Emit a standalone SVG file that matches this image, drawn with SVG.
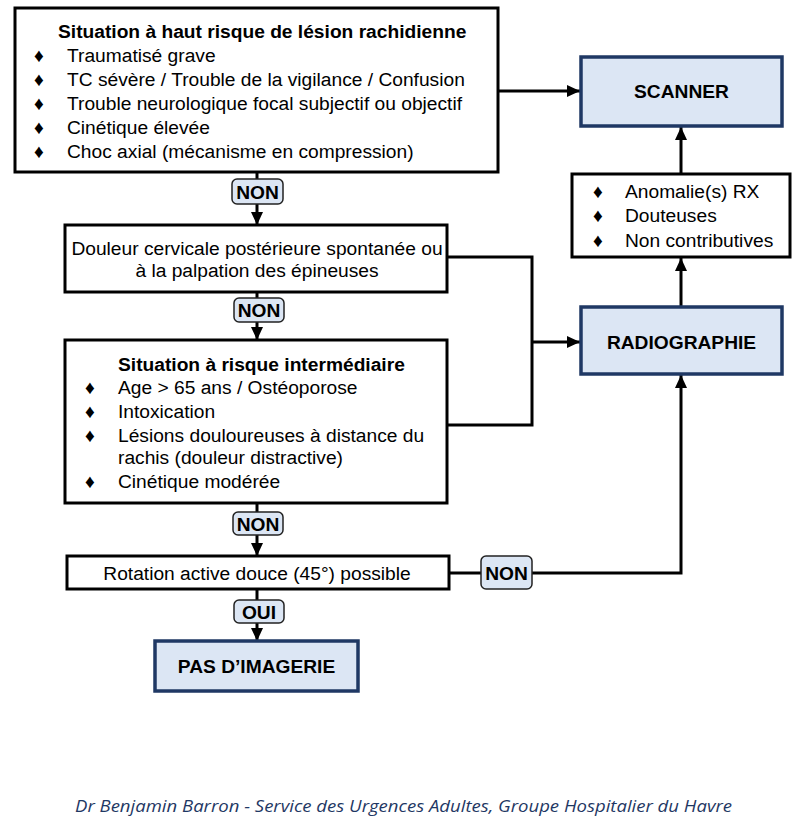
<svg xmlns="http://www.w3.org/2000/svg" width="800" height="831" viewBox="0 0 800 831">
<defs>
<style>
text{font-family:"Liberation Sans",Arial,sans-serif;font-size:19.2px;fill:#000}
.b{font-weight:bold}
.box{fill:#fff;stroke:#000;stroke-width:3}
.blue{fill:#dce6f4;stroke:#1f3864;stroke-width:3.5}
.lbl{fill:#dce6f4;stroke:#222;stroke-width:1.5}
.con{fill:none;stroke:#000;stroke-width:3}
.foot{font-family:"Open Sans","Noto Sans",sans-serif;font-style:italic;font-size:17px;fill:#1f3864}
</style>
<marker id="ah" markerUnits="userSpaceOnUse" markerWidth="13" markerHeight="12" refX="13" refY="6" orient="auto">
<path d="M0,0 L13,6 L0,12 z" fill="#000"/>
</marker>
</defs>
<rect width="800" height="831" fill="#fff"/>

<g id="connectors">
<line class="con" x1="498" y1="91" x2="580" y2="91" marker-end="url(#ah)"/>
<line class="con" x1="257" y1="172" x2="257" y2="225" marker-end="url(#ah)"/>
<line class="con" x1="257" y1="292" x2="257" y2="340" marker-end="url(#ah)"/>
<polyline class="con" points="447,257 532,257 532,425 447,425"/>
<line class="con" x1="532" y1="342" x2="580" y2="342" marker-end="url(#ah)"/>
<line class="con" x1="257" y1="503" x2="257" y2="556" marker-end="url(#ah)"/>
<line class="con" x1="257" y1="589" x2="257" y2="641" marker-end="url(#ah)"/>
<polyline class="con" points="449,573 681,573 681,375" marker-end="url(#ah)"/>
<line class="con" x1="681" y1="307" x2="681" y2="258" marker-end="url(#ah)"/>
<line class="con" x1="681" y1="174" x2="681" y2="127" marker-end="url(#ah)"/>
<g id="lbl-non1"><rect class="lbl" x="232" y="179" width="51" height="25" rx="5"/><text class="b" x="257.5" y="199" text-anchor="middle">NON</text></g>
<g id="lbl-non2"><rect class="lbl" x="234" y="298" width="50" height="24" rx="5"/><text class="b" x="259" y="317" text-anchor="middle">NON</text></g>
<g id="lbl-non3"><rect class="lbl" x="233" y="512" width="50" height="23" rx="5"/><text class="b" x="258" y="531" text-anchor="middle">NON</text></g>
<g id="lbl-oui"><rect class="lbl" x="234" y="600" width="50" height="23" rx="5"/><text class="b" x="259" y="619" text-anchor="middle">OUI</text></g>
<g id="lbl-non4"><rect class="lbl" x="481" y="556" width="51" height="33" rx="5"/><text class="b" x="506.5" y="580" text-anchor="middle">NON</text></g>
</g>

<g id="haut-risque">
<rect class="box" x="15" y="8" width="483" height="164"/>
<text class="b" x="58" y="38">Situation à haut risque de lésion rachidienne</text>
<text x="34" y="62">♦</text><text x="67" y="62">Traumatisé grave</text>
<text x="34" y="86">♦</text><text x="67" y="86">TC sévère / Trouble de la vigilance / Confusion</text>
<text x="34" y="110">♦</text><text x="67" y="110">Trouble neurologique focal subjectif ou objectif</text>
<text x="34" y="134">♦</text><text x="67" y="134">Cinétique élevée</text>
<text x="34" y="158">♦</text><text x="67" y="158">Choc axial (mécanisme en compression)</text>
</g>

<g id="douleur">
<rect class="box" x="65" y="225" width="382" height="67"/>
<text x="257" y="255" text-anchor="middle">Douleur cervicale postérieure spontanée ou</text>
<text x="257" y="277" text-anchor="middle">à la palpation des épineuses</text>
</g>

<g id="intermediaire">
<rect class="box" x="65" y="340" width="382" height="163"/>
<text class="b" x="118" y="371">Situation à risque intermédiaire</text>
<text x="85" y="394">♦</text><text x="118" y="394">Age &gt; 65 ans / Ostéoporose</text>
<text x="85" y="418">♦</text><text x="118" y="418">Intoxication</text>
<text x="85" y="442">♦</text><text x="118" y="442">Lésions douloureuses à distance du</text>
<text x="118" y="464">rachis (douleur distractive)</text>
<text x="85" y="488">♦</text><text x="118" y="488">Cinétique modérée</text>
</g>

<g id="rotation">
<rect class="box" x="67" y="556" width="382" height="33"/>
<text x="257" y="580" text-anchor="middle">Rotation active douce (45°) possible</text>
</g>

<g id="pas-imagerie">
<rect class="blue" x="155" y="641" width="203" height="50"/>
<text class="b" x="256.5" y="673" text-anchor="middle">PAS D’IMAGERIE</text>
</g>

<g id="scanner">
<rect class="blue" x="581" y="57" width="201" height="69"/>
<text class="b" x="681.5" y="98" text-anchor="middle">SCANNER</text>
</g>

<g id="anomalies">
<rect class="box" x="572" y="174" width="218" height="83"/>
<text x="593" y="198">♦</text><text x="625" y="198">Anomalie(s) RX</text>
<text x="593" y="222">♦</text><text x="625" y="222">Douteuses</text>
<text x="593" y="247">♦</text><text x="625" y="247">Non contributives</text>
</g>

<g id="radiographie">
<rect class="blue" x="581" y="307" width="201" height="67"/>
<text class="b" x="681.5" y="349" text-anchor="middle">RADIOGRAPHIE</text>
</g>

<text class="foot" x="75" y="812" textLength="657" lengthAdjust="spacingAndGlyphs">Dr Benjamin Barron - Service des Urgences Adultes, Groupe Hospitalier du Havre</text>
</svg>
